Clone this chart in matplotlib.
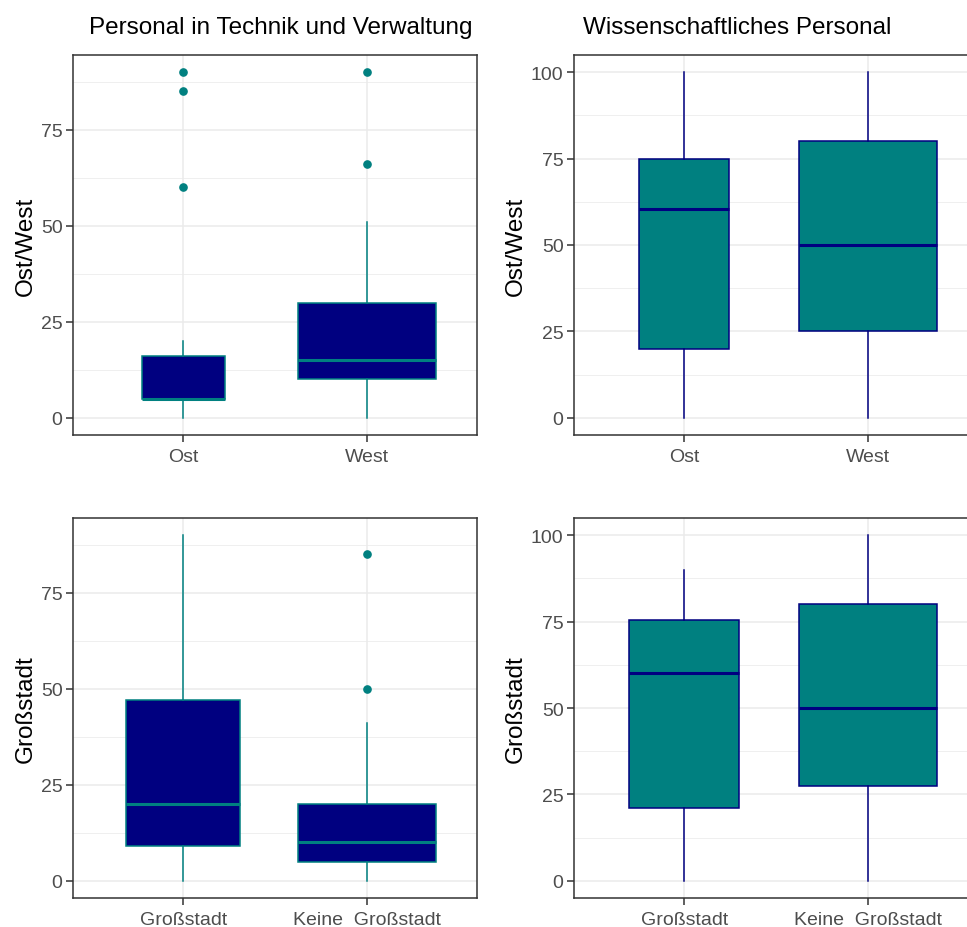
import matplotlib
matplotlib.use("Agg")
import matplotlib.pyplot as plt
from matplotlib.ticker import MultipleLocator

plt.rcParams['font.family'] = ['Liberation Sans', 'DejaVu Sans']

# ---------------- data ----------------
ow_labels = ["Ost", "West"]
gs_labels = ["Großstadt", "Keine  Großstadt"]

# Personal in Technik und Verwaltung, Ost/West
tech_ow_whislo = [0, 0]
tech_ow_q1 = [5, 10]
tech_ow_med = [5, 15]
tech_ow_q3 = [16, 30]
tech_ow_whishi = [20, 51]
tech_ow_fliers = [[60, 85, 90], [66, 90]]

# Wissenschaftliches Personal, Ost/West
wiss_ow_whislo = [0, 0]
wiss_ow_q1 = [20, 25]
wiss_ow_med = [60.5, 50]
wiss_ow_q3 = [75, 80]
wiss_ow_whishi = [100, 100]
wiss_ow_fliers = [[], []]

# Personal in Technik und Verwaltung, Großstadt
tech_gs_whislo = [0, 0]
tech_gs_q1 = [9, 5]
tech_gs_med = [20, 10]
tech_gs_q3 = [47, 20]
tech_gs_whishi = [90, 41]
tech_gs_fliers = [[], [50, 85]]

# Wissenschaftliches Personal, Großstadt
wiss_gs_whislo = [0, 0]
wiss_gs_q1 = [21, 27.5]
wiss_gs_med = [60, 50]
wiss_gs_q3 = [75.5, 80]
wiss_gs_whishi = [90, 100]
wiss_gs_fliers = [[], []]

# relative box widths (varwidth)
tech_ow_relw = [0.605, 1.0]
wiss_ow_relw = [0.65, 1.0]
tech_gs_relw = [0.83, 1.0]
wiss_gs_relw = [0.80, 1.0]

NAVY = "#000080"
TEAL = "#008080"

W, H = 967, 928
fig = plt.figure(figsize=(W / 100, H / 100), dpi=100)


def axes_px(x0, y0, x1, y1):
    return fig.add_axes([x0 / W, 1 - y1 / H, (x1 - x0) / W, (y1 - y0) / H])


def make_stats(lo, q1, med, q3, hi, fl):
    return [dict(whislo=a, q1=b, med=c, q3=d, whishi=e, fliers=f)
            for a, b, c, d, e, f in zip(lo, q1, med, q3, hi, fl)]


def panel(ax, stats, relw, labels, ylabel, fill, line, ylim, yticks):
    ax.set_xlim(0.4, 2.6)
    ax.set_ylim(*ylim)
    ax.set_yticks(yticks)
    ax.yaxis.set_minor_locator(MultipleLocator(12.5))
    ax.set_axisbelow(True)
    ax.grid(which='major', color='#EBEBEB', linewidth=1.1)
    ax.grid(which='minor', axis='y', color='#EBEBEB', linewidth=0.55)
    ax.bxp(stats, positions=[1, 2], widths=[0.75 * r for r in relw],
           showcaps=False, patch_artist=True, manage_ticks=False,
           boxprops=dict(facecolor=fill, edgecolor=line, linewidth=1.1),
           whiskerprops=dict(color=line, linewidth=1.1),
           medianprops=dict(color=line, linewidth=2.2, solid_capstyle='butt'),
           flierprops=dict(marker='o', markerfacecolor=TEAL,
                           markeredgecolor=TEAL, markersize=5.2))
    ax.set_xticks([1, 2])
    ax.set_xticklabels(labels)
    ax.tick_params(axis='both', which='major', length=5, width=1.1,
                   color='#333333', labelcolor='#4D4D4D', labelsize=14)
    ax.tick_params(axis='x', which='major', pad=4.5)
    ax.tick_params(axis='y', which='major', pad=2.5)
    ax.tick_params(axis='y', which='minor', length=0)
    for s in ax.spines.values():
        s.set_color('#333333')
        s.set_linewidth(1.1)
    ax.set_ylabel(ylabel, fontsize=17.5, color='black', labelpad=3)


ax1 = axes_px(73, 56, 477, 436)
panel(ax1, make_stats(tech_ow_whislo, tech_ow_q1, tech_ow_med, tech_ow_q3,
                      tech_ow_whishi, tech_ow_fliers),
      tech_ow_relw, ow_labels, "Ost/West", NAVY, TEAL, (-4.5, 94.5),
      [0, 25, 50, 75])

ax2 = axes_px(574, 56, 978, 436)
panel(ax2, make_stats(wiss_ow_whislo, wiss_ow_q1, wiss_ow_med, wiss_ow_q3,
                      wiss_ow_whishi, wiss_ow_fliers),
      wiss_ow_relw, ow_labels, "Ost/West", TEAL, NAVY, (-5, 105),
      [0, 25, 50, 75, 100])

ax3 = axes_px(73, 519, 477, 899)
panel(ax3, make_stats(tech_gs_whislo, tech_gs_q1, tech_gs_med, tech_gs_q3,
                      tech_gs_whishi, tech_gs_fliers),
      tech_gs_relw, gs_labels, "Großstadt", NAVY, TEAL, (-4.5, 94.5),
      [0, 25, 50, 75])

ax4 = axes_px(574, 519, 978, 899)
panel(ax4, make_stats(wiss_gs_whislo, wiss_gs_q1, wiss_gs_med, wiss_gs_q3,
                      wiss_gs_whishi, wiss_gs_fliers),
      wiss_gs_relw, gs_labels, "Großstadt", TEAL, NAVY, (-5, 105),
      [0, 25, 50, 75, 100])

fig.text(89 / W, 1 - 34 / H, "Personal in Technik und Verwaltung",
         fontsize=17.5, ha='left', va='baseline', color='black')
fig.text(583 / W, 1 - 34 / H, "Wissenschaftliches Personal",
         fontsize=17.5, ha='left', va='baseline', color='black')

fig.savefig("out.png", dpi=100)
